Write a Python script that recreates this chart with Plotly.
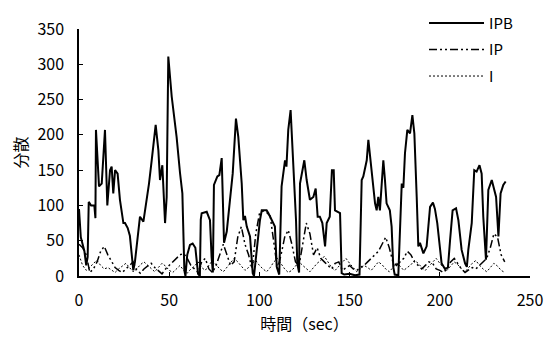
import plotly.graph_objects as go

ipb_t = [0, 1, 2, 3, 4, 4.8, 5.4, 6.7, 8.5, 9.1, 9.4, 10.3, 11.1, 12.6, 14.4, 15.7, 17.2, 18.1, 19, 20, 21.4, 22.7,
         24.6, 25.5, 27, 28.2, 29.2, 30.1, 31, 32.9, 33.8, 35.7, 37.5, 38.8, 40.3, 41.6, 42.5, 44, 44.9, 46.2, 46.8,
         47.7, 48.6, 49.5, 51.4, 53.2, 54.1, 56, 57.3, 58.4, 59, 60, 61.5, 63, 64.5, 66, 67, 67.5, 68, 70.8, 72.6,
         73.5, 74.2, 74.8, 76.7, 77.8, 79.1, 80.4, 81.9, 83.7, 85.2, 87, 88.3, 90.2, 91.1, 92, 93, 94.8, 96.3, 97,
         98.5, 100.3, 101.3, 104, 105, 108.6, 109.6, 111, 112.3, 114.2, 115, 116, 117.3, 118.8, 120.3, 121, 122,
         122.5, 124.9, 126.2, 128, 129.9, 131.2, 132.3, 133.5, 134.9, 136.4, 137.3, 139, 140.2, 141.2, 141.9, 143.8,
         144.7, 145.6, 147, 150, 153, 155.5, 156.7, 157.6, 159.5, 160.4, 161.3, 163.1, 164.1, 165, 165.9, 166.8,
         167.8, 168.7, 169.6, 170.5, 172.3, 173.3, 174.2, 175, 177, 178, 178.9, 179.8, 180.7, 182, 183.5, 184.8,
         185.9, 187.2, 188.1, 189, 190.9, 192.7, 193.6, 194.6, 196.2, 197.3, 198.6, 200.1, 201, 202.9, 204.5,
         205.7, 207.1, 209, 210.3, 212.1, 214, 215, 215.8, 217.7, 219.1, 220.4, 222, 223.2, 224.1, 225.6, 226.9,
         228.8, 229.7, 231.2, 232.5, 233.7, 235.2, 236.5]
ipb_v = [95, 55, 45, 35, 15, 27, 105, 100, 100, 82, 207, 170, 127, 131, 207, 100, 150, 155, 117, 150, 145, 108,
         75, 75, 68, 57, 32, 8, 20, 70, 84, 77, 108, 131, 164, 193, 214, 178, 136, 157, 127,
         75, 112, 311, 254, 216, 197, 146, 117, 8, 0, 30, 44, 46, 40, 3, 0, 80, 89, 91, 79,
         27, 5, 129, 141, 143, 167, 47, 63, 108, 145, 223, 197, 131, 79, 85, 70, 56, 4, 0,
         37, 79, 93, 93, 89, 70, 13, 2, 127, 164, 155, 207, 235, 160, 79, 18, 5,
         131, 164, 136, 108, 112, 124, 84, 84, 75, 42, 75, 84, 150, 150, 93, 91,
         89, 4, 2, 3, 1, 2, 136, 141, 164, 193, 169, 122, 103, 93, 112, 93,
         136, 164, 136, 103, 93, 70, 13, 2, 1, 75, 131, 125, 174, 207, 202, 228,
         202, 112, 42, 47, 32, 42, 70, 98, 104, 95, 75, 42, 18, 10, 12,
         51, 93, 96, 79, 37, 18, 13, 37, 75, 150, 148, 157, 145, 84, 23, 122,
         136, 127, 112, 56, 117, 129, 134]

ip_t = list(range(0, 238, 2))
ip_v = [45, 40, 30, 5, 10, 20, 35, 42, 30, 20, 12, 8, 5, 10, 15, 20, 8, 4, 10, 14, 18, 12, 8, 3, 10, 15, 20, 25,
        30, 32, 25, 15, 10, 5, 20, 25, 10, 5, 15, 30, 45, 30, 15, 20, 55, 70, 45, 30, 10, 60, 88, 92, 90, 85, 50,
        10, 30, 55, 65, 45, 20, 15, 45, 75, 60, 30, 40, 25, 20, 15, 10, 18, 20, 8, 12, 15, 10, 8, 12, 15, 20, 25,
        30, 35, 45, 55, 40, 20, 15, 20, 25, 35, 30, 20, 15, 10, 15, 20, 18, 10, 8, 5, 10, 20, 25, 18, 10, 5, 8,
        12, 10, 15, 20, 25, 40, 60, 55, 30, 20]

i_t = list(range(0, 238, 2))
i_v = [30, 15, 8, 12, 18, 22, 15, 10, 12, 8, 5, 10, 14, 18, 12, 6, 10, 16, 20, 15, 10, 6, 12, 18, 14, 8, 5, 10,
       15, 8, 4, 10, 14, 20, 12, 8, 15, 22, 16, 10, 6, 12, 18, 25, 20, 14, 8, 12, 18, 22, 15, 10, 6, 12, 20, 25,
       18, 10, 5, 8, 14, 20, 15, 10, 6, 12, 18, 22, 28, 20, 12, 8, 14, 20, 25, 18, 12, 6, 10, 15, 12, 8, 14, 20,
       16, 10, 6, 12, 18, 14, 8, 12, 16, 22, 18, 12, 8, 14, 20, 25, 18, 12, 8, 14, 20, 16, 10, 6, 12, 18, 22, 15,
       10, 6, 12, 18, 14, 8, 5]

x_ticks = [0, 50, 100, 150, 200, 250]
y_ticks = [0, 50, 100, 150, 200, 250, 300, 350]

FONT = "Noto Sans CJK JP, Liberation Sans, sans-serif"

fig = go.Figure()
fig.add_trace(go.Scatter(x=ipb_t, y=ipb_v, mode="lines", name="IPB", legendgroup="a",
                         line=dict(color="black", width=2)))
fig.add_trace(go.Scatter(x=ip_t, y=ip_v, mode="lines", name="IP", legendgroup="b",
                         line=dict(color="black", width=1.5, dash="8px,3px,2px,3px,2px,3px")))
fig.add_trace(go.Scatter(x=i_t, y=i_v, mode="lines", name="I", legendgroup="c",
                         line=dict(color="black", width=1, dash="2px,2px")))

fig.update_layout(
    width=545, height=333,
    margin=dict(l=71, r=23, t=21, b=65, autoexpand=False),
    paper_bgcolor="white", plot_bgcolor="white",
    font=dict(family=FONT, size=16, color="black"),
    showlegend=True,
    legend=dict(x=0.765, y=1.09, xanchor="left", yanchor="top",
                bgcolor="rgba(0,0,0,0)", font=dict(size=15), itemwidth=55, tracegroupgap=4),
    xaxis=dict(range=[0, 250], tickvals=x_ticks, ticks="inside", ticklen=4, tickcolor="black",
               showline=True, linecolor="black", linewidth=1.5, showgrid=False, zeroline=False,
               ticklabelstandoff=9, automargin=False,
               title=dict(text="時間（sec）", font=dict(size=16), standoff=6)),
    yaxis=dict(range=[0, 350], tickvals=y_ticks, ticks="inside", ticklen=4, tickcolor="black",
               showline=True, linecolor="black", linewidth=1.5, showgrid=False, zeroline=False,
               ticklabelstandoff=10, automargin=False,
               title=dict(text="分散", font=dict(size=16), standoff=8)),
)

fig.write_html("out.html")
